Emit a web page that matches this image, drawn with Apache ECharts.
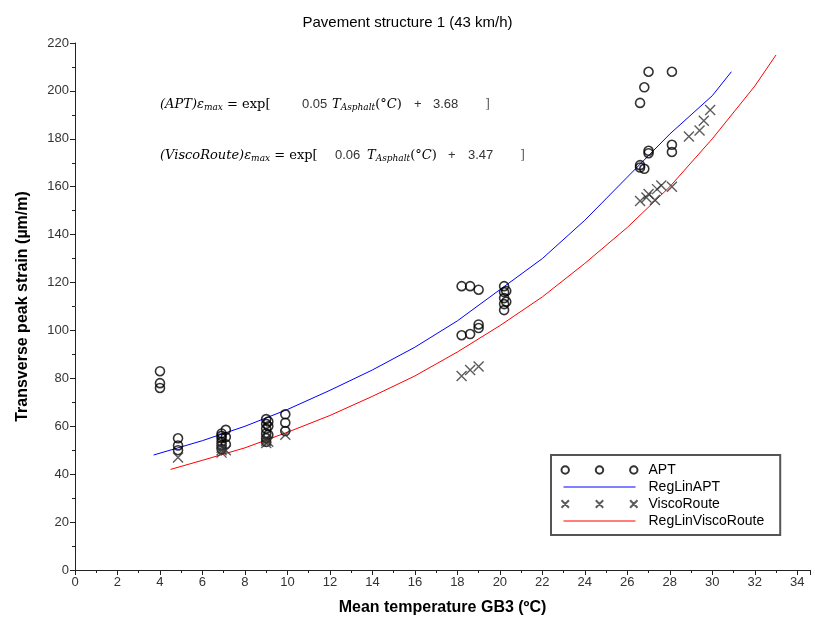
<!DOCTYPE html>
<html>
<head>
<meta charset="utf-8">
<script src="https://cdn.jsdelivr.net/npm/echarts@6/dist/echarts.min.js"></script>
<style>
  html, body { margin: 0; padding: 0; background: #fff; }
  #chart { width: 815px; height: 621px; }
</style>
</head>
<body>
<div id="chart"></div>
<script>
// mesures APT (température moyenne GB3, déformation transversale)
const aptTemp = [4.0, 4.0, 4.0, 4.85, 4.85, 4.85,
  6.9, 6.9, 6.9, 6.9, 6.9, 6.9, 7.1, 7.1, 7.1,
  9.0, 9.0, 9.0, 9.0, 9.0, 9.0, 9.1, 9.1, 9.1, 9.9, 9.9, 9.9,
  18.2, 18.2, 18.6, 18.6, 19.0, 19.0, 19.0,
  20.2, 20.2, 20.2, 20.2, 20.2, 20.3, 20.3,
  26.6, 26.6, 26.6, 26.8, 26.8, 27.0, 27.0, 27.0, 28.1, 28.1, 28.1];
const aptStrain = [83, 78, 76, 55, 52, 50,
  57, 56, 55, 53.5, 52, 50.5, 58.5, 55.5, 52.5,
  63, 61, 59, 57, 55, 53.5, 62, 60, 56.5, 65, 61.5, 58,
  118.5, 98, 118.5, 98.5, 117, 101, 102.5,
  118.5, 116, 113.5, 111, 108.5, 116.5, 112,
  195, 169, 168, 201.5, 167.5, 208, 174, 175, 208, 177.5, 174.5];

// mesures ViscoRoute
const vrTemp = [4.85, 6.9, 6.9, 6.9, 7.1, 9.0, 9.0, 9.0, 9.1, 9.9,
  18.2, 18.6, 19.0,
  26.6, 26.9, 27.0, 27.3, 27.4, 27.6, 28.1, 28.9, 29.4, 29.6, 29.9];
const vrStrain = [47, 50, 49, 51, 50, 53, 54, 55, 53.5, 56.5,
  81, 83.5, 85,
  154, 155.5, 157, 154.5, 159, 160.5, 160, 181, 183.5, 187.5, 192];

// courbes de régression
const regAptTemp = [3.7, 6, 8, 10, 12, 14, 16, 18, 20, 22, 24, 26, 28, 30, 30.9];
const regAptStrain = [48, 54, 60, 67, 75, 83.5, 93, 104, 117, 130, 146, 164, 182, 198, 208];
const regVrTemp = [4.5, 6, 8, 10, 12, 14, 16, 18, 20, 22, 24, 26, 28, 30, 32, 33];
const regVrStrain = [42, 45.8, 51, 57.5, 64.5, 72.5, 81, 91, 102, 114, 128, 143, 160, 180, 202, 215];

// coefficients affichés
const aptCoef = ['0.05', '3.68'];
const vrCoef = ['0.06', '3.47'];

const xTicks = { min: 0, max: 34.6, interval: 2 };
const yTicks = { min: 0, max: 220, interval: 20 };

function pairs(xs, ys) {
  return xs.map((x, i) => [x, ys[i]]);
}

const chart = echarts.init(document.getElementById('chart'));

const sans = 'Liberation Sans, Arial, sans-serif';
const serif = 'DejaVu Serif, Liberation Serif, serif';
const crossPath = 'path://M0,0L10,10M10,0L0,10';
const circles3 = 'path://M0,4a4,4 0 1,0 8,0a4,4 0 1,0 -8,0M37,4a4,4 0 1,0 8,0a4,4 0 1,0 -8,0M74,4a4,4 0 1,0 8,0a4,4 0 1,0 -8,0';
const crosses3 = 'path://M0,0L8,8M8,0L0,8M37,0L45,8M45,0L37,8M74,0L82,8M82,0L74,8';
const lineIcon = 'path://M0,0h0.01v0.01h-0.01zM0,4.4h80v1.2h-80zM0,9.99h0.01v0.01h-0.01z';

const mathRich = {
  s: { fontFamily: serif, fontSize: 13, color: '#555' },
  i: { fontFamily: serif, fontStyle: 'italic', fontSize: 13, color: '#555' },
  sub: { fontFamily: serif, fontStyle: 'italic', fontSize: 9, color: '#555', verticalAlign: 'bottom', padding: [6, 0, 0, 0] }
};

function eqLine(y, label, xs, coef) {
  return [
    { type: 'text', left: xs[0], top: y - 8, style: { text: '{i|(' + label + ')ε}{sub|max}{s| = exp[}', rich: mathRich } },
    { type: 'text', left: xs[1], top: y - 8, style: { text: coef[0], font: '13px ' + sans, fill: '#333' } },
    { type: 'text', left: xs[2], top: y - 8, style: { text: '{i|T}{sub|Asphalt}{s|(°}{i|C}{s|)}', rich: mathRich } },
    { type: 'text', left: xs[3], top: y - 8, style: { text: '+', font: '13px ' + sans, fill: '#333' } },
    { type: 'text', left: xs[4], top: y - 8, style: { text: coef[1], font: '13px ' + sans, fill: '#333' } },
    { type: 'text', left: xs[5], top: y - 8, style: { text: ']', font: '13px ' + serif, fill: '#666' } }
  ];
}

chart.setOption({
  animation: false,
  backgroundColor: '#fff',
  title: {
    text: 'Pavement structure 1 (43 km/h)',
    left: 'center',
    top: 10,
    textStyle: { fontFamily: sans, fontSize: 15, fontWeight: 'normal', color: '#000' }
  },
  grid: { left: 75, right: 5, top: 43, bottom: 48, containLabel: false },
  legend: {
    orient: 'vertical',
    left: 551,
    top: 455,
    padding: [8, 16, 7, 8],
    itemWidth: 76,
    itemHeight: 9,
    itemGap: 3,
    borderColor: '#555',
    borderWidth: 2,
    textStyle: { fontFamily: sans, fontSize: 14, lineHeight: 13, color: '#000', padding: [0, 0, 0, 6] },
    data: [
      { name: 'APT', icon: circles3 },
      { name: 'RegLinAPT', icon: lineIcon },
      { name: 'ViscoRoute', icon: crosses3 },
      { name: 'RegLinViscoRoute', icon: lineIcon }
    ]
  },
  xAxis: [{
    type: 'value',
    min: xTicks.min,
    max: xTicks.max,
    interval: xTicks.interval,
    name: 'Mean temperature GB3 (ºC)',
    nameLocation: 'middle',
    nameGap: 30,
    nameTextStyle: { fontFamily: sans, fontSize: 16, fontWeight: 'bold', color: '#000' },
    axisLine: { onZero: false, lineStyle: { color: '#222', width: 1 } },
    axisTick: { show: true, length: 5, lineStyle: { color: '#222' } },
    minorTick: { show: true, splitNumber: 2, length: 3, lineStyle: { color: '#222' } },
    axisLabel: {
      fontFamily: sans, fontSize: 13, color: '#333', margin: 6,
      formatter: v => (Math.abs(v % 2) < 1e-6 ? String(v) : '')
    },
    splitLine: { show: false }
  }, {
    type: 'value',
    position: 'top',
    min: xTicks.min,
    max: xTicks.max,
    axisLine: { show: true, lineStyle: { color: '#222', width: 1 } },
    axisTick: { show: false },
    axisLabel: { show: false },
    splitLine: { show: false }
  }],
  yAxis: {
    type: 'value',
    min: yTicks.min,
    max: yTicks.max,
    interval: yTicks.interval,
    name: 'Transverse peak strain (µm/m)',
    nameLocation: 'middle',
    nameGap: 44,
    nameTextStyle: { fontFamily: sans, fontSize: 16, fontWeight: 'bold', color: '#000' },
    axisLine: { show: true, onZero: false, lineStyle: { color: '#222', width: 1 } },
    axisTick: { show: true, length: 5, lineStyle: { color: '#222' } },
    minorTick: { show: true, splitNumber: 2, length: 3, lineStyle: { color: '#222' } },
    axisLabel: { fontFamily: sans, fontSize: 13, color: '#333', margin: 6 },
    splitLine: { show: false }
  },
  series: [
    {
      name: 'APT',
      type: 'scatter',
      symbol: 'circle',
      symbolSize: 9,
      itemStyle: { color: 'none', borderColor: '#000', borderWidth: 1.6 },
      data: pairs(aptTemp, aptStrain),
      z: 3
    },
    {
      name: 'RegLinAPT',
      type: 'line',
      symbol: 'none',
      lineStyle: { color: '#0000ff', width: 1 },
      itemStyle: { color: '#0000ff' },
      data: pairs(regAptTemp, regAptStrain),
      z: 2
    },
    {
      name: 'ViscoRoute',
      type: 'scatter',
      symbol: crossPath,
      symbolSize: 10,
      itemStyle: { color: 'none', borderColor: '#333', borderWidth: 1.4 },
      data: pairs(vrTemp, vrStrain),
      z: 3
    },
    {
      name: 'RegLinViscoRoute',
      type: 'line',
      symbol: 'none',
      lineStyle: { color: '#ff0000', width: 1 },
      itemStyle: { color: '#ff0000' },
      data: pairs(regVrTemp, regVrStrain),
      z: 2
    }
  ],
  graphic: [].concat(
    eqLine(106, 'APT', [160, 302, 332, 414, 433, 485], aptCoef),
    eqLine(157, 'ViscoRoute', [160, 335, 367, 448, 468, 520], vrCoef)
  )
});
</script>
</body>
</html>
